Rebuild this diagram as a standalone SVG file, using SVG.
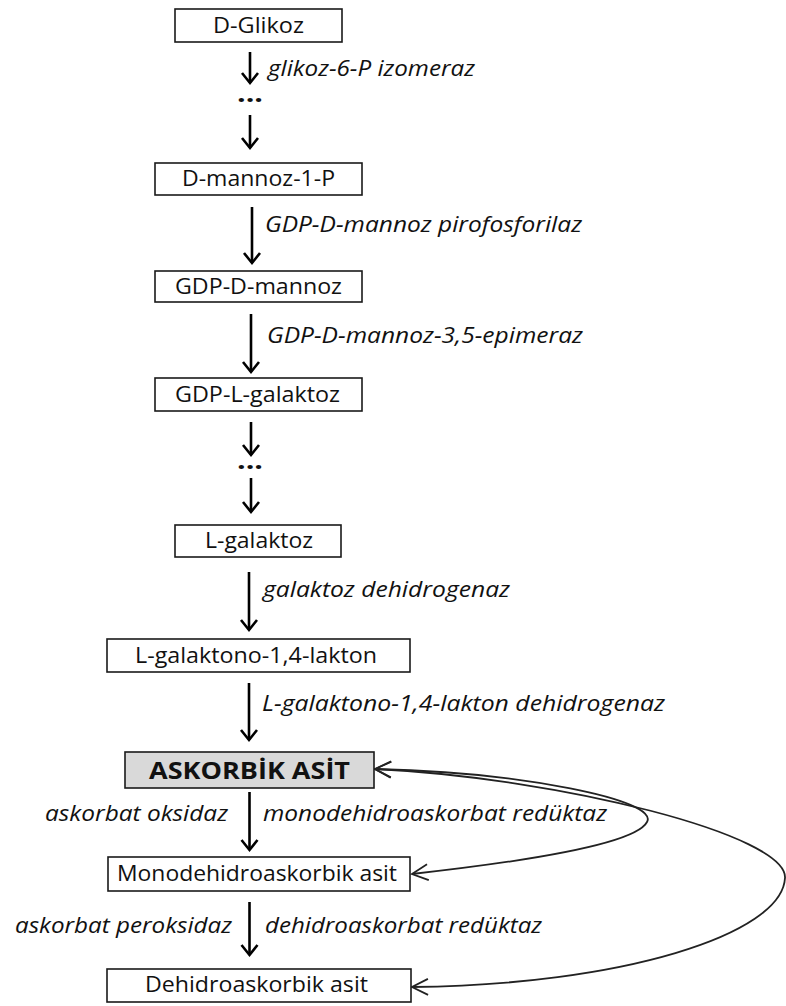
<svg xmlns="http://www.w3.org/2000/svg" width="786" height="1006" viewBox="0 0 786 1006">
<style>
.box{fill:#fff;stroke:#1a1a1a;stroke-width:1.6}
.main{fill:#d9d9d9;stroke:#1a1a1a;stroke-width:1.6}
.t{font-family:"Open Sans","Noto Sans",sans-serif;font-size:21px;fill:#111}
.i{font-family:"Open Sans","Noto Sans",sans-serif;font-size:21px;font-style:italic;fill:#111}
.b{font-family:"Open Sans","Noto Sans",sans-serif;font-size:24px;font-weight:bold;fill:#111}
.dots{font-family:"Open Sans","Noto Sans",sans-serif;font-size:24px;font-weight:bold;fill:#111}
.arr{stroke:#000;stroke-width:2.6;fill:none;marker-end:url(#ah)}
.cur{stroke:#222;stroke-width:1.8;fill:none;marker-start:url(#ch);marker-end:url(#ch)}
</style>
<defs>
<marker id="ah" markerUnits="userSpaceOnUse" viewBox="-13 -11 16 22" markerWidth="16" markerHeight="22" refX="0" refY="0" orient="auto">
<path d="M-10,-8 L0,0 L-10,8" fill="none" stroke="#000" stroke-width="2.6"/>
</marker>
<marker id="ch" markerUnits="userSpaceOnUse" viewBox="-19 -10 22 20" markerWidth="22" markerHeight="20" refX="0" refY="0" orient="auto-start-reverse">
<path d="M-16,-8 L0,0 L-16,8" fill="none" stroke="#222" stroke-width="1.8"/>
</marker>
</defs>

<g id="connectors">
<line class="arr" x1="250" y1="52" x2="250" y2="83"/>
<line class="arr" x1="250" y1="115" x2="250" y2="148"/>
<line class="arr" x1="252" y1="207" x2="252" y2="263"/>
<line class="arr" x1="251" y1="314" x2="251" y2="372"/>
<line class="arr" x1="251" y1="422" x2="251" y2="455"/>
<line class="arr" x1="251" y1="478" x2="251" y2="512"/>
<line class="arr" x1="249" y1="572" x2="249" y2="630"/>
<line class="arr" x1="249" y1="683" x2="249" y2="740"/>
<line class="arr" x1="249.5" y1="792" x2="249.5" y2="850"/>
<line class="arr" x1="249.5" y1="902" x2="249.5" y2="955"/>
<path class="cur" d="M375,769 C520,772 660,800 647,822 C635,845 520,862 412,874"/>
<path class="cur" d="M375,769 C560,778 788,835 785,878 C782,935 620,985 412,987"/>
<text class="i" x="268" y="76" textLength="207" lengthAdjust="spacingAndGlyphs">glikoz-6-P izomeraz</text>
<text class="dots" x="237" y="102" textLength="26" lengthAdjust="spacingAndGlyphs">...</text>
<text class="i" x="265" y="232" textLength="317" lengthAdjust="spacingAndGlyphs">GDP-D-mannoz pirofosforilaz</text>
<text class="i" x="267" y="343" textLength="316" lengthAdjust="spacingAndGlyphs">GDP-D-mannoz-3,5-epimeraz</text>
<text class="dots" x="237" y="469" textLength="26" lengthAdjust="spacingAndGlyphs">...</text>
<text class="i" x="263" y="597" textLength="247" lengthAdjust="spacingAndGlyphs">galaktoz dehidrogenaz</text>
<text class="i" x="262" y="711" textLength="403" lengthAdjust="spacingAndGlyphs">L-galaktono-1,4-lakton dehidrogenaz</text>
<text class="i" x="45" y="821" textLength="183" lengthAdjust="spacingAndGlyphs">askorbat oksidaz</text>
<text class="i" x="263" y="821" textLength="344" lengthAdjust="spacingAndGlyphs">monodehidroaskorbat redüktaz</text>
<text class="i" x="15" y="933" textLength="217" lengthAdjust="spacingAndGlyphs">askorbat peroksidaz</text>
<text class="i" x="265" y="933" textLength="277" lengthAdjust="spacingAndGlyphs">dehidroaskorbat redüktaz</text>
</g>

<g id="d-glikoz"><rect class="box" x="175" y="9" width="167" height="33"/><text class="t" x="213" y="33" textLength="91" lengthAdjust="spacingAndGlyphs">D-Glikoz</text></g>
<g id="d-mannoz-1-p"><rect class="box" x="155" y="163" width="207" height="32"/><text class="t" x="182" y="186" textLength="153" lengthAdjust="spacingAndGlyphs">D-mannoz-1-P</text></g>
<g id="gdp-d-mannoz"><rect class="box" x="155" y="271" width="207" height="31"/><text class="t" x="175" y="294" textLength="167" lengthAdjust="spacingAndGlyphs">GDP-D-mannoz</text></g>
<g id="gdp-l-galaktoz"><rect class="box" x="155" y="378" width="207" height="33"/><text class="t" x="175" y="402" textLength="165" lengthAdjust="spacingAndGlyphs">GDP-L-galaktoz</text></g>
<g id="l-galaktoz"><rect class="box" x="175" y="525" width="166" height="32"/><text class="t" x="205" y="548" textLength="108" lengthAdjust="spacingAndGlyphs">L-galaktoz</text></g>
<g id="l-galaktono-lakton"><rect class="box" x="107" y="639" width="303" height="33"/><text class="t" x="135" y="663" textLength="242" lengthAdjust="spacingAndGlyphs">L-galaktono-1,4-lakton</text></g>
<g id="askorbik-asit"><rect class="main" x="125" y="752" width="249" height="36"/><text class="b" x="149" y="779" textLength="201" lengthAdjust="spacingAndGlyphs">ASKORBİK ASİT</text></g>
<g id="monodehidroaskorbik-asit"><rect class="box" x="108" y="857" width="302" height="34"/><text class="t" x="117" y="881" textLength="280" lengthAdjust="spacingAndGlyphs">Monodehidroaskorbik asit</text></g>
<g id="dehidroaskorbik-asit"><rect class="box" x="107" y="969" width="304" height="33"/><text class="t" x="145" y="992" textLength="223" lengthAdjust="spacingAndGlyphs">Dehidroaskorbik asit</text></g>
</svg>
